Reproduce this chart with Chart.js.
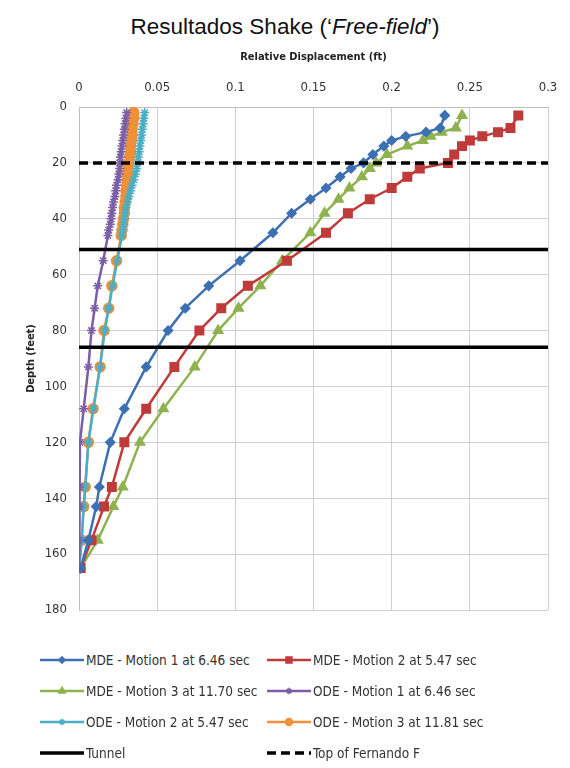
<!DOCTYPE html>
<html>
<head>
<meta charset="utf-8">
<script src="https://cdn.jsdelivr.net/npm/chart.js@4.4.1/dist/chart.umd.min.js"></script>
<style>
  body { margin: 0; background: #fff; width: 570px; height: 768px; overflow: hidden; position: relative; }
  #title { position: absolute; top: 14px; left: 0; width: 570px; text-align: center;
           font-family: "Liberation Sans", Arial, sans-serif; font-size: 22.5px; color: #111; }
  #wrap { position: absolute; top: 40px; left: 0; width: 570px; height: 590px; }
  #legend { position: absolute; top: 651px; left: 40px; width: 530px;
            display: grid; grid-template-columns: 227px 290px; row-gap: 13px;
            font-family: "Liberation Sans Narrow", "DejaVu Sans Condensed", sans-serif; font-size: 13.5px; color: #333; }
  .item { display: flex; align-items: center; height: 18px; white-space: nowrap; }
  .item canvas { margin-right: 2px; }
</style>
</head>
<body>
<div id="title">Resultados Shake (‘<i>Free-field</i>’)</div>
<div id="wrap"><canvas id="chart"></canvas></div>
<div id="legend"></div>
<script>
// profundidades (ft)
const depthMDE = [3, 7.5, 9, 10.5, 12, 14, 17, 20, 22, 25, 29, 33, 38, 45, 55, 64, 72, 80, 93, 108, 120, 136, 143, 155, 165];
const depthODE = [2, 4, 6, 8, 10, 12, 14, 16, 18, 20, 22, 24, 26, 28, 30, 32, 34, 36, 38, 40, 42, 44, 46,
                  55, 64, 72, 80, 93, 108, 120, 136, 143, 155, 165];

// desplazamiento relativo (ft)
const mde1 = [0.234, 0.231, 0.222, 0.209, 0.200, 0.195, 0.188, 0.182, 0.174, 0.167, 0.158, 0.148, 0.136,
              0.124, 0.103, 0.083, 0.068, 0.057, 0.043, 0.029, 0.020, 0.013, 0.011, 0.006, 0.001];
const mde2 = [0.281, 0.276, 0.268, 0.258, 0.250, 0.245, 0.240, 0.236, 0.218, 0.210, 0.200, 0.186, 0.172,
              0.158, 0.133, 0.108, 0.091, 0.077, 0.061, 0.043, 0.029, 0.021, 0.016, 0.008, 0.001];
const mde3 = [0.245, 0.241, 0.232, 0.225, 0.220, 0.210, 0.197, 0.190, 0.186, 0.181, 0.173, 0.166, 0.157,
              0.148, 0.130, 0.116, 0.102, 0.089, 0.074, 0.054, 0.039, 0.028, 0.022, 0.012, 0.001];
const ode1 = [0.0305, 0.030, 0.0295, 0.029, 0.0285, 0.028, 0.0275, 0.027, 0.0265, 0.026, 0.026, 0.0255,
              0.025, 0.024, 0.0235, 0.023, 0.022, 0.0215, 0.021, 0.0205, 0.020, 0.019, 0.0185,
              0.0155, 0.012, 0.010, 0.008, 0.006, 0.003, 0.0006, 0.0003, 0.0002, 0.0001, 0];
const ode2 = [0.042, 0.0415, 0.041, 0.0405, 0.040, 0.0395, 0.039, 0.0385, 0.038, 0.0375, 0.037, 0.036,
              0.035, 0.034, 0.033, 0.032, 0.031, 0.030, 0.0295, 0.029, 0.0285, 0.028, 0.0275,
              0.0245, 0.0215, 0.019, 0.0165, 0.0135, 0.0092, 0.006, 0.004, 0.003, 0.0017, 0];
const ode3 = [0.035, 0.035, 0.0345, 0.034, 0.034, 0.0335, 0.033, 0.033, 0.0325, 0.032, 0.0315, 0.031,
              0.031, 0.0305, 0.030, 0.030, 0.0295, 0.029, 0.029, 0.0285, 0.028, 0.0275, 0.027,
              0.024, 0.021, 0.019, 0.016, 0.0135, 0.009, 0.006, 0.004, 0.003, 0.0017, 0];

// lineas horizontales
const tunnelDepths = [51, 86];
const fernandoDepth = 20;
const xRange = [0, 0.3];

const xTickLabels = ["0", "0.05", "0.1", "0.15", "0.2", "0.25", "0.3"];
const yTickLabels = ["0", "20", "40", "60", "80", "100", "120", "140", "160", "180"];

const seriesLabels = [
  "MDE - Motion 1 at 6.46 sec",
  "MDE - Motion 2 at 5.47 sec",
  "MDE - Motion 3 at 11.70 sec",
  "ODE - Motion 1 at 6.46 sec",
  "ODE - Motion 2 at 5.47 sec",
  "ODE - Motion 3 at 11.81 sec",
];

function pts(depths, vals) {
  return vals.map((v, i) => ({ x: v, y: depths[i] }));
}

function serie(label, data, color, style, radius) {
  return {
    label: label, data: data, showLine: true,
    borderColor: color, backgroundColor: color, borderWidth: 2.5,
    pointStyle: style, pointRadius: radius, pointHoverRadius: radius,
    pointBorderColor: color, pointBackgroundColor: color, pointBorderWidth: 1.5,
  };
}

function hline(label, depth, dash, inLegend) {
  return {
    label: label, data: xRange.map(x => ({ x: x, y: depth })), showLine: true,
    borderColor: "#000", backgroundColor: "#000", borderWidth: 3.5, borderDash: dash,
    pointRadius: 0, inLegend: inLegend, order: -1,
  };
}

const datasets = [
  serie(seriesLabels[0], pts(depthMDE, mde1), "#3d70b3", "rectRot", 4.5),
  serie(seriesLabels[1], pts(depthMDE, mde2), "#bf3b3a", "rect", 6),
  serie(seriesLabels[2], pts(depthMDE, mde3), "#8fb24f", "triangle", 5.5),
  serie(seriesLabels[3], pts(depthODE, ode1), "#7b5ea6", "star", 4.5),
  serie(seriesLabels[4], pts(depthODE, ode2), "#4aaec6", "star", 4.5),
  serie(seriesLabels[5], pts(depthODE, ode3), "#f09138", "circle", 5),
  hline("Tunnel", tunnelDepths[0], [], true),
  hline("Tunnel", tunnelDepths[1], [], false),
  hline("Top of Fernando F", fernandoDepth, [9, 5], true),
];

const axisFont = { family: "'Liberation Sans Narrow', 'DejaVu Sans Condensed', sans-serif", size: 13 };
const titleFont = { family: "'DejaVu Sans Condensed', sans-serif", size: 11, weight: "bold" };

const chart = new Chart(document.getElementById("chart"), {
  type: "scatter",
  data: { datasets: datasets },
  options: {
    responsive: true,
    maintainAspectRatio: false,
    animation: false,
    layout: { padding: { left: 0, right: 22, top: 0, bottom: 20 } },
    plugins: { legend: { display: false }, tooltip: { enabled: false } },
    scales: {
      x: {
        type: "linear", position: "top", min: 0, max: 0.3,
        ticks: { stepSize: 0.05, padding: 12, color: "#333", font: axisFont,
                 callback: v => xTickLabels[Math.round(v / 0.05)] },
        grid: { color: "#cfcfcf", drawTicks: false },
        border: { color: "#bdbdbd" },
        title: { display: true, text: "Relative Displacement (ft)", color: "#222",
                 font: titleFont, padding: { top: 11, bottom: 0 } },
        afterFit: s => { s.height = 67; },
      },
      y: {
        type: "linear", reverse: true, min: 0, max: 180,
        ticks: { stepSize: 20, padding: 12, color: "#333", font: axisFont,
                 callback: v => yTickLabels[Math.round(v / 20)] },
        grid: { color: "#cfcfcf", drawTicks: false },
        border: { color: "#bdbdbd" },
        title: { display: true, text: "Depth (feet)", color: "#222",
                 font: titleFont, padding: { top: 25, bottom: 0 } },
        afterFit: s => { s.width = 79; },
      },
    },
  },
});

// leyenda en dos columnas
const legend = document.getElementById("legend");
chart.data.datasets.forEach(ds => {
  if (ds.inLegend === false) return;
  const item = document.createElement("div");
  item.className = "item";
  const c = document.createElement("canvas");
  c.width = 44; c.height = 16;
  const ctx = c.getContext("2d");
  ctx.strokeStyle = ds.borderColor;
  ctx.lineWidth = ds.borderWidth;
  ctx.setLineDash(ds.borderDash || []);
  ctx.beginPath(); ctx.moveTo(0, 8); ctx.lineTo(44, 8); ctx.stroke();
  ctx.setLineDash([]);
  if (ds.pointRadius) {
    ctx.fillStyle = ds.pointBackgroundColor;
    ctx.strokeStyle = ds.pointBorderColor;
    ctx.lineWidth = 1.5;
    Chart.helpers.drawPoint(ctx, { pointStyle: ds.pointStyle, radius: ds.pointRadius * 0.7, borderWidth: 1.5, rotation: 0 }, 22, 8);
  }
  const t = document.createElement("span");
  t.textContent = ds.label;
  item.appendChild(c);
  item.appendChild(t);
  legend.appendChild(item);
});
</script>
</body>
</html>
